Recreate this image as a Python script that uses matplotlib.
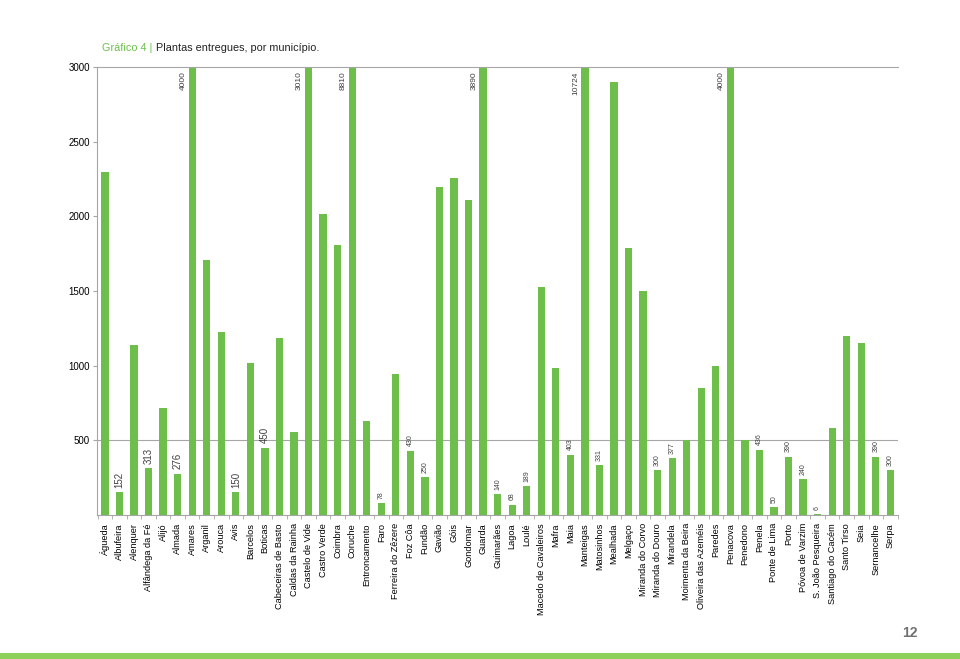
import matplotlib
matplotlib.use("Agg")
import matplotlib.pyplot as plt
import numpy as np

# ------------------------------------------------------------------ #
# Data                                                                 #
# ------------------------------------------------------------------ #

municipios = [
    "Águeda", "Albufeira", "Alenquer", "Alfândega da Fé", "Alijó", "Almada",
    "Amares", "Arganil", "Arouca", "Avis", "Barcelos", "Boticas",
    "Cabeceiras de Basto", "Caldas da Rainha", "Castelo de Vide",
    "Castro Verde", "Coimbra", "Coruche", "Entroncamento", "Faro",
    "Ferreira do Zêzere", "Foz Côa", "Fundão", "Gavião", "Góis", "Gondomar",
    "Guarda", "Guimarães", "Lagoa", "Loulé", "Macedo de Cavaleiros", "Mafra",
    "Maia", "Manteigas", "Matosinhos", "Mealhada", "Melgaço",
    "Miranda do Corvo", "Miranda do Douro", "Mirandela", "Moimenta da Beira",
    "Oliveira das Azeméis", "Paredes", "Penacova", "Penedono", "Penela",
    "Ponte de Lima", "Porto", "Póvoa de Varzim", "S. João Pesqueira",
    "Santiago do Cacém", "Santo Tirso", "Seia", "Sernancelhe", "Serpa",
]

plantas = [
    2300, 152, 1140, 313, 715, 276,
    4000, 1710, 1225, 150, 1020, 450,
    1185, 555, 3010,
    2015, 1805, 8810, 625, 78,
    945, 430, 250, 2200, 2255, 2110,
    3890, 140, 68, 189, 1525, 985,
    403, 10724, 331, 2900, 1785,
    1500, 300, 377, 500,
    850, 1000, 4000, 500, 436,
    50, 390, 240, 6,
    580, 1200, 1150, 390, 300,
]

y_ticks = [500, 1000, 1500, 2000, 2500, 3000]
y_max = 3000

GREEN = "#6DBE4B"
GREY = "#A6A6A6"
TEXT = "#404040"
NARROW = ["Liberation Sans Narrow", "Liberation Sans", "DejaVu Sans"]

plt.rcParams["font.family"] = ["Liberation Sans", "DejaVu Sans"]

fig = plt.figure(figsize=(9.6, 6.59), dpi=100)
ax = fig.add_axes([0.101, 0.219, 0.834, 0.679])

x = np.arange(len(municipios))
ax.bar(x, np.minimum(plantas, y_max), width=0.5, color=GREEN, zorder=2)

# data labels: only small values and the clipped ones
for i, v in enumerate(plantas):
    size = 7 if i < 12 else 5
    if v > y_max:
        ax.annotate(str(v), xy=(i, y_max), xytext=(-4, -3),
                    textcoords="offset points", rotation=90,
                    ha="right", va="top", fontsize=6, color=TEXT)
    elif v < 500:
        ax.annotate(str(v), xy=(i, v), xytext=(0, 3),
                    textcoords="offset points", rotation=90,
                    ha="center", va="bottom", fontsize=size, color=TEXT)

ax.set_xlim(-0.55, len(municipios) - 0.5)
ax.set_ylim(0, y_max)

ax.set_yticks(y_ticks)
ax.set_yticklabels([str(t) for t in y_ticks], fontsize=7, color="black")
ax.tick_params(axis="y", length=3, color=GREY, pad=2)

ax.set_xticks(x)
ax.set_xticklabels(municipios, rotation=90, fontsize=6.6, color="black",
                   family=NARROW)
ax.tick_params(axis="x", length=0, pad=6)
ax.set_xticks(np.arange(-0.5, len(municipios), 1.0), minor=True)
ax.tick_params(axis="x", which="minor", length=3, color=GREY)

for side in ("left", "bottom", "top"):
    ax.spines[side].set_color(GREY)
    ax.spines[side].set_linewidth(0.8)
ax.spines["right"].set_visible(False)
ax.axhline(500, color=GREY, linewidth=0.8, zorder=1)

# title: green prefix, then the caption right after it
t1 = fig.text(0.106, 0.922, "Gráfico 4 |", color=GREEN, fontsize=7.8,
              ha="left", va="baseline", family=NARROW)
ax.annotate("Plantas entregues, por município.", xy=(1, 0), xycoords=t1,
            xytext=(2.5, 0), textcoords="offset points", color="#222222",
            fontsize=7.8, ha="left", va="bottom", family=NARROW,
            annotation_clip=False)

# page number and footer strip
fig.text(0.948, 0.040, "12", color="#707070", fontsize=10, weight="bold",
         ha="center", va="center")
fig.add_artist(plt.Rectangle((0, 0), 1, 0.009, transform=fig.transFigure,
                             color="#8DD15A", linewidth=0))

fig.savefig("out.png", dpi=100, facecolor="white")
